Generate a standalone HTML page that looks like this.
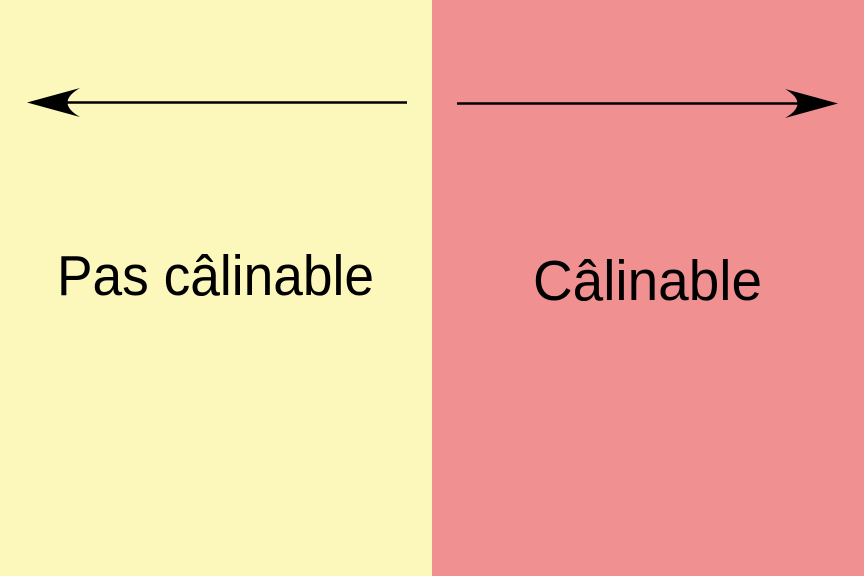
<!DOCTYPE html>
<html><head><meta charset="utf-8"><style>
html,body{margin:0;padding:0;width:864px;height:576px;overflow:hidden}
</style></head><body>
<svg width="864" height="576" viewBox="0 0 864 576" xmlns="http://www.w3.org/2000/svg">
<rect x="0" y="0" width="432" height="576" fill="#fcf7bb"/>
<rect x="432" y="0" width="432" height="576" fill="#f09091"/>
<g>
<line x1="50" y1="102.5" x2="407" y2="102.5" stroke="#000" stroke-width="2.5"/>
<path d="M27 102.5 L80 88 Q55 102.5 80 117 Z" fill="#000"/>
</g>
<g>
<line x1="457" y1="103.5" x2="815" y2="103.5" stroke="#000" stroke-width="2.5"/>
<path d="M838 103.5 L785 89 Q810 103.5 785 118 Z" fill="#000"/>
</g>
<text x="57" y="295" font-family="Liberation Sans, sans-serif" font-size="57" textLength="317" lengthAdjust="spacingAndGlyphs" fill="#000">Pas câlinable</text>
<text x="533" y="300" font-family="Liberation Sans, sans-serif" font-size="57" textLength="229" lengthAdjust="spacingAndGlyphs" fill="#000">Câlinable</text>
</svg>
</body></html>
